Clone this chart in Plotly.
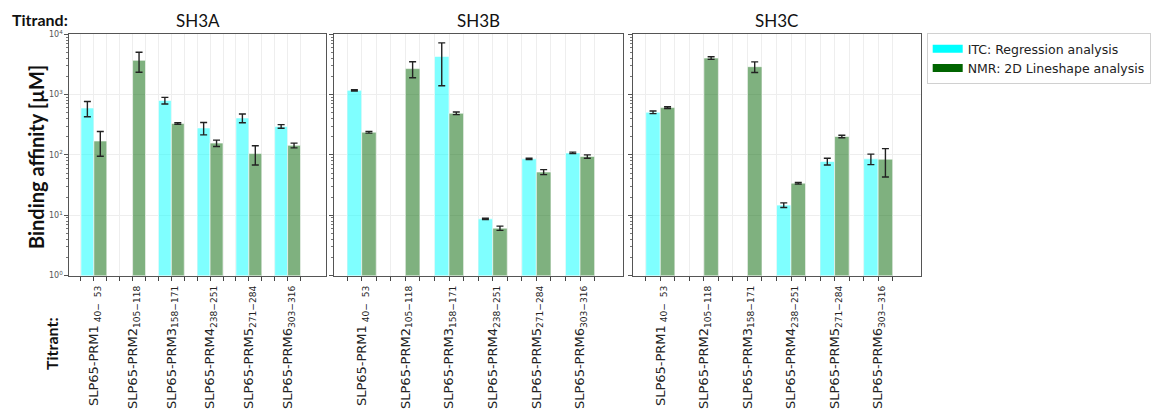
import plotly.graph_objects as go

# Titrant peptides and their residue ranges (tick labels)
peptides = ["SLP65-PRM1", "SLP65-PRM2", "SLP65-PRM3", "SLP65-PRM4", "SLP65-PRM5", "SLP65-PRM6"]
residues = ["\u00a040−\u00a0\u00a053", "105−118", "158−171", "238−251", "271−284", "303−316"]
titrands = ["SH3A", "SH3B", "SH3C"]

# Binding affinities in µM (None = not measured) with their errors
itc_sh3a = [600, None, 800, 280, 410, 297]
itc_sh3a_err = [170, 0, 100, 65, 68, 21]
nmr_sh3a = [170, 3700, 333, 157, 105, 144]
nmr_sh3a_err = [75, 1350, 10, 19, 37, 13]

itc_sh3b = [1178, None, 4300, 8.7, 86, 108]
itc_sh3b_err = [30, 0, 2900, 0.2, 2, 3]
nmr_sh3b = [238, 2700, 490, 6.1, 52, 94]
nmr_sh3b_err = [8, 800, 25, 0.5, 5, 6]

itc_sh3c = [509, None, None, 14.7, 78, 86]
itc_sh3c_err = [25, 0, 0, 1.3, 10, 17]
nmr_sh3c = [609, 4036, 2904, 34, 202, 85]
nmr_sh3c_err = [20, 200, 580, 1, 10, 42]

itc_values = [itc_sh3a, itc_sh3b, itc_sh3c]
itc_errors = [itc_sh3a_err, itc_sh3b_err, itc_sh3c_err]
nmr_values = [nmr_sh3a, nmr_sh3b, nmr_sh3c]
nmr_errors = [nmr_sh3a_err, nmr_sh3b_err, nmr_sh3c_err]

ITC_FILL = "rgba(0,255,255,0.5)"
NMR_FILL = "rgba(0,100,0,0.5)"
W, H = 1153, 410

# panel placement in pixels (left, right) and shared vertical extent
panel_px = [(69.3, 325.7), (334.0, 623.0), (632.7, 921.0)]
top_px, bottom_px = 34.3, 275.5
y_domain = [1 - bottom_px / H, 1 - top_px / H]

n_slots = 3 * len(peptides)
tickvals = list(range(n_slots))
ticktext = []
for k in tickvals:
    if k % 3 == 1:
        g = k // 3
        ticktext.append(f"{peptides[g]}<sub>{residues[g]}</sub>")
    else:
        ticktext.append("")

itc_x = [3 * g + 0.5 for g in range(len(peptides))]
nmr_x = [3 * g + 1.5 for g in range(len(peptides))]

fig = go.Figure()
err_style = dict(type="data", color="#222222", thickness=1.4, width=3.5, visible=True)

for p in range(3):
    suffix = "" if p == 0 else str(p + 1)
    fig.add_trace(go.Bar(
        x=itc_x, y=itc_values[p], width=1.0,
        marker=dict(color=ITC_FILL, line=dict(color="white", width=0.6)),
        error_y=dict(array=itc_errors[p], **err_style),
        xaxis="x" + suffix, yaxis="y" + suffix, showlegend=False,
    ))
    fig.add_trace(go.Bar(
        x=nmr_x, y=nmr_values[p], width=1.0,
        marker=dict(color=NMR_FILL, line=dict(color="white", width=0.6)),
        error_y=dict(array=nmr_errors[p], **err_style),
        xaxis="x" + suffix, yaxis="y" + suffix, showlegend=False,
    ))

# legend entries drawn as solid swatches
fig.add_trace(go.Scatter(x=[None], y=[None], mode="lines",
                         line=dict(color="#00FFFF", width=8),
                         name="ITC: Regression analysis"))
fig.add_trace(go.Scatter(x=[None], y=[None], mode="lines",
                         line=dict(color="#006400", width=8),
                         name="NMR: 2D Lineshape analysis"))

minor_vals = [m * 10 ** e for e in range(4) for m in range(2, 10)]

layout = dict(
    width=W, height=H,
    margin=dict(l=0, r=0, t=0, b=0),
    paper_bgcolor="white", plot_bgcolor="white",
    barmode="overlay",
    showlegend=True,
    legend=dict(
        x=926.7 / W, y=1 - 33 / H, xanchor="left", yanchor="top",
        bgcolor="white", bordercolor="#d0d0d0", borderwidth=1,
        font=dict(family="DejaVu Sans", size=12.5, color="#222222"),
        itemwidth=30, tracegroupgap=0,
    ),
)

for p in range(3):
    suffix = "" if p == 0 else str(p + 1)
    left, right = panel_px[p]
    layout["xaxis" + suffix] = dict(
        domain=[left / W, right / W], anchor="y" + suffix,
        range=[-0.9, 18.95], tickmode="array",
        tickvals=tickvals, ticktext=ticktext, tickangle=-90,
        ticks="outside", ticklen=4, tickcolor="#444444",
        tickfont=dict(family="DejaVu Sans", size=13, color="#222222"),
        showgrid=True, gridcolor="#eeeeee", gridwidth=1,
        showline=True, linecolor="#555555", linewidth=1, mirror=True,
        zeroline=False, automargin=False, fixedrange=True,
    )
    layout["yaxis" + suffix] = dict(
        domain=y_domain, anchor="x" + suffix, type="log", range=[0, 4],
        tickmode="array", tickvals=[1, 10, 100, 1000, 10000],
        ticktext=["10<sup>0</sup>", "10<sup>1</sup>", "10<sup>2</sup>",
                  "10<sup>3</sup>", "10<sup>4</sup>"] if p == 0 else ["", "", "", "", ""],
        tickfont=dict(family="DejaVu Sans", size=8, color="#555555"),
        ticks="outside", ticklen=4, tickcolor="#555555",
        minor=dict(tickmode="array", tickvals=minor_vals, ticks="outside",
                   ticklen=2, tickcolor="#777777", showgrid=False),
        showgrid=True, gridcolor="#eeeeee", gridwidth=1,
        showline=True, linecolor="#555555", linewidth=1, mirror=True,
        zeroline=False, automargin=False, fixedrange=True,
    )

fig.update_layout(**layout)

annotations = []
for p, name in enumerate(titrands):
    left, right = panel_px[p]
    annotations.append(dict(
        text=name, x=(left + right) / 2 / W, y=1 - 20 / H,
        xref="paper", yref="paper", showarrow=False,
        xanchor="center", yanchor="middle",
        font=dict(family="Lato", size=17, color="#111111"),
    ))
annotations.append(dict(
    text="<b>Titrand:</b>", x=40 / W, y=1 - 19 / H, xref="paper", yref="paper",
    showarrow=False, xanchor="center", yanchor="middle",
    font=dict(family="Lato", size=16, color="#111111"),
))
annotations.append(dict(
    text="<b>Binding affinity [µM]</b>", x=36 / W, y=1 - 157 / H,
    xref="paper", yref="paper", showarrow=False, textangle=-90,
    xanchor="center", yanchor="middle",
    font=dict(family="Lato", size=20, color="#111111"),
))
annotations.append(dict(
    text="<b>Titrant:</b>", x=51 / W, y=1 - 344 / H,
    xref="paper", yref="paper", showarrow=False, textangle=-90,
    xanchor="center", yanchor="middle",
    font=dict(family="Lato", size=16, color="#111111"),
))
fig.update_layout(annotations=annotations)

fig.write_html("out.html")
